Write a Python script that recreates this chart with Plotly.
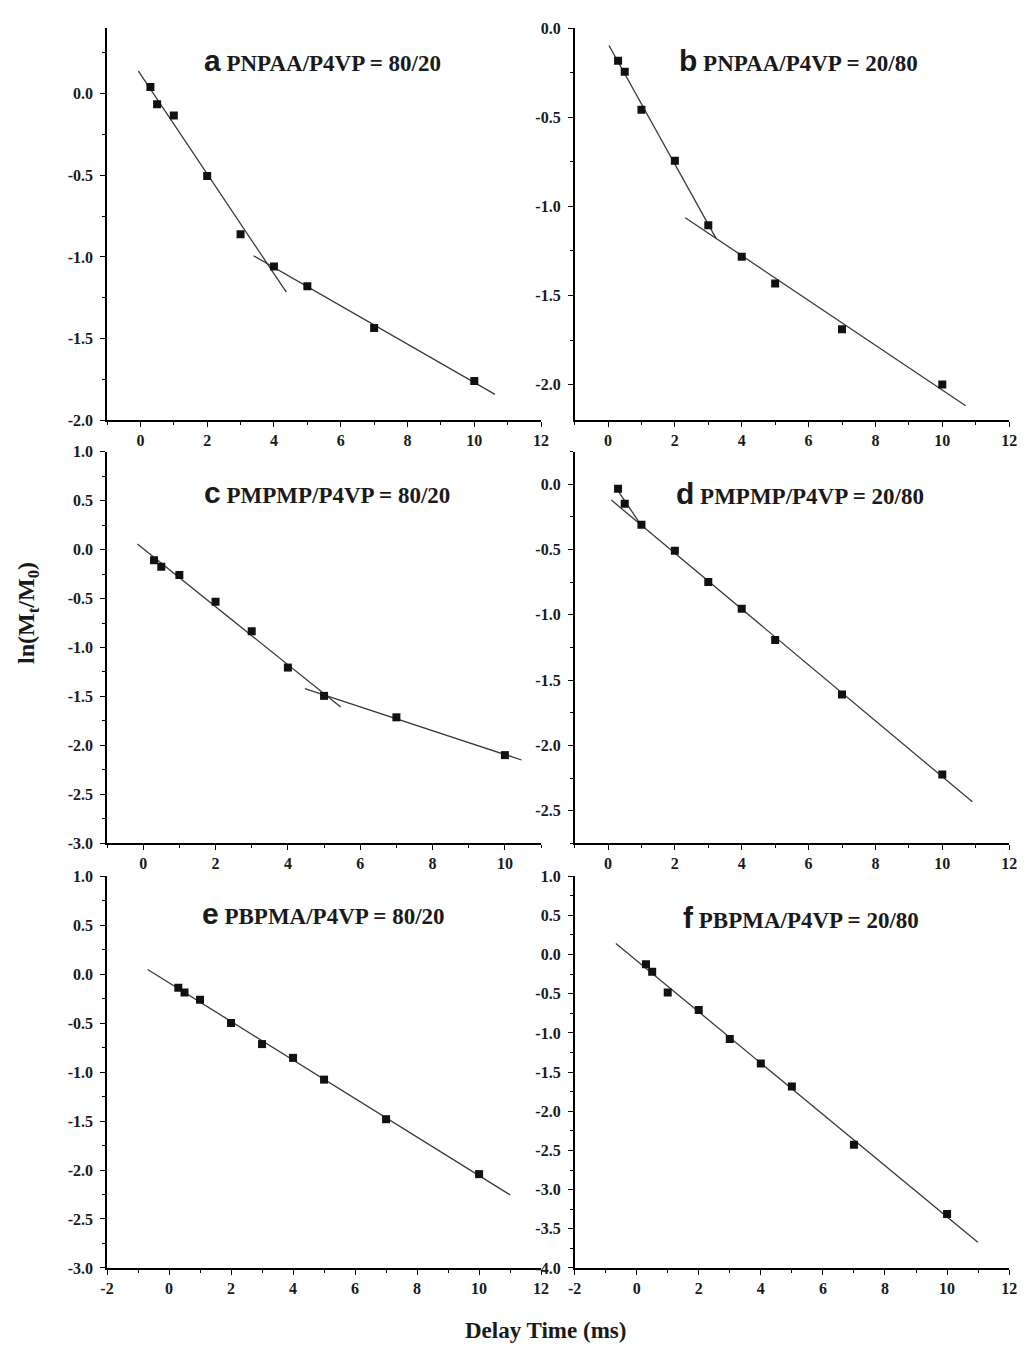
import numpy as np
import plotly.graph_objects as go

# ---------------- data ----------------
delay_ms = [0.3, 0.5, 1, 2, 3, 4, 5, 7, 10]

ln_a = [0.04, -0.065, -0.135, -0.504, -0.861, -1.058, -1.179, -1.435, -1.76]
ln_b = [-0.183, -0.244, -0.457, -0.743, -1.106, -1.283, -1.433, -1.689, -2.0]
ln_c = [-0.109, -0.176, -0.26, -0.533, -0.835, -1.205, -1.494, -1.713, -2.099]
ln_d = [-0.035, -0.149, -0.31, -0.509, -0.748, -0.954, -1.193, -1.609, -2.223]
ln_e = [-0.139, -0.187, -0.26, -0.499, -0.714, -0.855, -1.077, -1.481, -2.042]
ln_f = [-0.122, -0.218, -0.483, -0.706, -1.076, -1.391, -1.685, -2.429, -3.311]

panel_letters = ["a", "b", "c", "d", "e", "f"]
panel_labels = ["PNPAA/P4VP = 80/20", "PNPAA/P4VP = 20/80",
                "PMPMP/P4VP = 80/20", "PMPMP/P4VP = 20/80",
                "PBPMA/P4VP = 80/20", "PBPMA/P4VP = 20/80"]

# linear-fit segments: (first point index, last point index, x start, x end)
fits_a = [(0, 5, -0.06, 4.37), (5, 8, 3.39, 10.62)]
fits_b = [(0, 4, 0.03, 3.24), (4, 8, 2.31, 10.70)]
fits_c = [(0, 6, -0.16, 5.46), (6, 8, 4.47, 10.46)]
fits_d = [(0, 2, 0.20, 0.93), (2, 8, 0.10, 10.90)]
fits_e = [(0, 8, -0.69, 11.0)]
fits_f = [(0, 8, -0.67, 10.99)]

x_ranges = [[-1, 12], [-1, 12], [-1, 11], [-1, 12], [-2, 12], [-2, 12]]
y_ranges = [[-2.0, 0.4], [-2.2, 0.0], [-3.0, 1.0], [-2.75, 0.25], [-3.0, 1.0], [-4.0, 1.0]]
x_tick_values = [[0, 2, 4, 6, 8, 10, 12], [0, 2, 4, 6, 8, 10, 12], [0, 2, 4, 6, 8, 10],
                 [0, 2, 4, 6, 8, 10, 12], [-2, 0, 2, 4, 6, 8, 10, 12], [-2, 0, 2, 4, 6, 8, 10, 12]]

x_title = "Delay Time (ms)"
y_title = "ln(M<sub>t</sub>/M<sub>0</sub>)"

series = [ln_a, ln_b, ln_c, ln_d, ln_e, ln_f]
fits = [fits_a, fits_b, fits_c, fits_d, fits_e, fits_f]

# ---------------- layout geometry (pixels) ----------------
W, H = 1027, 1351
col_px = [(101.5, 542), (576, 1017)]
row_px = [(20.5, 417.5), (449.3, 846), (879.3, 1276)]
title_px = [(320, 53), (803, 53), (325, 491), (805, 492), (321, 917), (806, 921)]

SERIF = "Liberation Serif"
SANS = "Liberation Sans"

def fmt(v, dec):
    s = f"{v:.{dec}f}"
    return "<b>" + s.replace("\u2212", "-") + "</b>"

fig = go.Figure()
annotations = []

for i in range(6):
    r, c = divmod(i, 2)
    xa = "x" if i == 0 else f"x{i+1}"
    ya = "y" if i == 0 else f"y{i+1}"
    xs = delay_ms
    ys = series[i]
    for (i0, i1, xs0, xs1) in fits[i]:
        px = np.array(xs[i0:i1 + 1], dtype=float)
        py = np.array(ys[i0:i1 + 1], dtype=float)
        k, b = np.polyfit(px, py, 1)
        lx = np.array([xs0, xs1])
        fig.add_trace(go.Scatter(x=lx, y=k * lx + b, mode="lines",
                                 line=dict(color="#3a3a3a", width=1.3),
                                 xaxis=xa, yaxis=ya, showlegend=False, hoverinfo="skip"))
    fig.add_trace(go.Scatter(x=xs, y=ys, mode="markers",
                             marker=dict(symbol="square", size=8, color="#111111"),
                             xaxis=xa, yaxis=ya, showlegend=False))

    x0, x1 = col_px[c]
    t, btm = row_px[r]
    lo, hi = y_ranges[i]
    yt = [v / 2 for v in range(int(np.ceil(lo * 2 - 1e-9)), int(np.floor(hi * 2 + 1e-9)) + 1)]
    xt = x_tick_values[i]
    axis_common = dict(showline=True, linecolor="black", linewidth=1.5, mirror=False,
                       showgrid=False, zeroline=False, ticks="outside", ticklen=5,
                       tickwidth=1.4, tickcolor="black",
                       tickfont=dict(family=SERIF, size=16, color="#1a1a1a"))
    fig.layout[("xaxis" if i == 0 else f"xaxis{i+1}")] = dict(
        domain=[x0 / W, x1 / W], range=x_ranges[i], anchor=ya,
        tickmode="array", tickvals=xt, ticktext=[fmt(v, 0) for v in xt],
        minor=dict(tickmode="linear", tick0=0, dtick=1, ticks="outside", ticklen=3,
                   tickwidth=1.2, tickcolor="black"),
        **axis_common)
    fig.layout[("yaxis" if i == 0 else f"yaxis{i+1}")] = dict(
        domain=[1 - btm / H, 1 - t / H], range=y_ranges[i], anchor=xa,
        tickmode="array", tickvals=yt, ticktext=[fmt(v, 1) for v in yt],
        ticklabelstandoff=4,
        minor=dict(tickmode="linear", tick0=0, dtick=0.25, ticks="outside", ticklen=3,
                   tickwidth=1.2, tickcolor="black"),
        **axis_common)

    tx, ty = title_px[i]
    annotations.append(dict(
        xref="paper", yref="paper", x=tx / W, y=1 - ty / H, xanchor="center", yanchor="middle",
        showarrow=False,
        text=f"<b><span style='font-family:{SANS};font-size:30px'>{panel_letters[i]}</span> {panel_labels[i]}</b>",
        font=dict(family=SERIF, size=23, color="#1a1a1a")))

annotations.append(dict(xref="paper", yref="paper", x=546 / W, y=1 - 1339 / H,
                        xanchor="center", yanchor="middle", showarrow=False,
                        text=f"<b>{x_title}</b>",
                        font=dict(family=SERIF, size=23, color="#1a1a1a")))
annotations.append(dict(xref="paper", yref="paper", x=22 / W, y=1 - 613 / H,
                        xanchor="center", yanchor="middle", showarrow=False,
                        text=f"<b>{y_title}</b>", textangle=-90,
                        font=dict(family=SERIF, size=24, color="#1a1a1a")))

fig.update_layout(width=W, height=H, margin=dict(l=0, r=0, t=0, b=0),
                  paper_bgcolor="white", plot_bgcolor="white", showlegend=False,
                  annotations=annotations)

fig.write_html("out.html")
